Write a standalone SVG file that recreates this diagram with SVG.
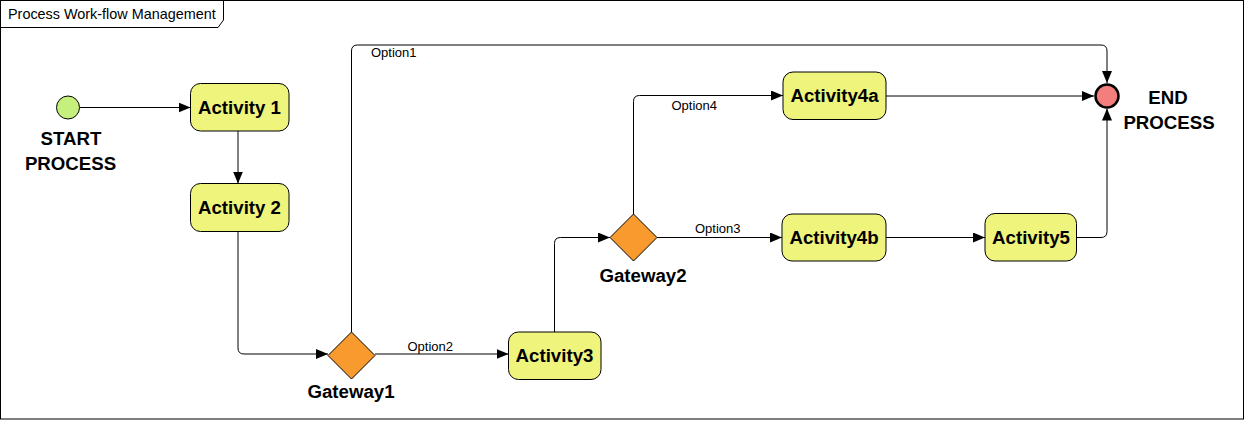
<svg xmlns="http://www.w3.org/2000/svg" width="1246" height="421" viewBox="0 0 1246 421">
<defs>
<marker id="arr" markerUnits="userSpaceOnUse" markerWidth="12" markerHeight="10" refX="12" refY="5" orient="auto">
<path d="M0,0 L12,5 L0,10 Z" fill="#000"/>
</marker>
<style>
.frame{fill:#fff;stroke:#000;stroke-width:1}
.act{fill:#EEF47C;stroke:#000;stroke-width:1}
.gw{fill:#F99A2E;stroke:#000;stroke-width:1}
.conn{fill:none;stroke:#000;stroke-width:1;marker-end:url(#arr)}
.lbl{font-family:"Liberation Sans",Arial,sans-serif;font-weight:bold;font-size:18.67px;fill:#000;text-anchor:middle}
.opt{font-family:"Liberation Sans",Arial,sans-serif;font-size:13px;fill:#000}
.title{font-family:"Liberation Sans",Arial,sans-serif;font-size:14.4px;fill:#000}
</style>
</defs>
<rect class="frame" x="0.5" y="0.5" width="1243" height="418.5"/>
<polygon class="frame" points="0.5,27.5 218,27.5 223.5,20 223.5,0.5 0.5,0.5"/>
<text class="title" x="8" y="19">Process Work-flow Management</text>

<g id="connectors">
<path class="conn" d="M80,107.5 H190.5"/>
<path class="conn" d="M238,131 V183.5"/>
<path class="conn" d="M238,231.5 V348 Q238,354 244,354 H328"/>
<path class="conn" d="M375,354 H508.5"/>
<path class="conn" d="M554.5,332 V243.5 Q554.5,237.5 560.5,237.5 H610"/>
<path class="conn" d="M633.5,214 V101.5 Q633.5,95.5 639.5,95.5 H783"/>
<path class="conn" d="M657,237.5 H782"/>
<path class="conn" d="M886,96 H1094"/>
<path class="conn" d="M886,237.5 H985"/>
<path class="conn" d="M1076,237.5 H1101 Q1107,237.5 1107,231.5 V108.5"/>
<path class="conn" d="M351.5,332 V51 Q351.5,45 357.5,45 H1101 Q1107,45 1107,51 V83"/>
<text class="opt" x="371" y="57">Option1</text>
<text class="opt" x="407.5" y="351">Option2</text>
<text class="opt" x="695" y="233">Option3</text>
<text class="opt" x="671.5" y="110">Option4</text>
</g>

<g id="start">
<circle cx="68" cy="107.5" r="11.5" fill="#C6F07E" stroke="#000" stroke-width="1"/>
<text class="lbl" x="71" y="145">START</text>
<text class="lbl" x="70.5" y="170">PROCESS</text>
</g>

<g id="activity1">
<rect class="act" x="190.5" y="83.5" width="98.5" height="47.5" rx="10"/>
<text class="lbl" x="239.5" y="114">Activity 1</text>
</g>

<g id="activity2">
<rect class="act" x="190.5" y="183.5" width="98.5" height="48" rx="10"/>
<text class="lbl" x="239.5" y="214">Activity 2</text>
</g>

<g id="gateway1">
<polygon class="gw" points="351.5,332 375,355.5 351.5,379 328,355.5"/>
<text class="lbl" x="351" y="398">Gateway1</text>
</g>

<g id="activity3">
<rect class="act" x="508.5" y="332" width="92.5" height="47.5" rx="10"/>
<text class="lbl" x="554.5" y="362">Activity3</text>
</g>

<g id="gateway2">
<polygon class="gw" points="633.5,214 657,237.5 633.5,261 610,237.5"/>
<text class="lbl" x="643" y="282">Gateway2</text>
</g>

<g id="activity4a">
<rect class="act" x="783" y="72" width="103" height="47.5" rx="10"/>
<text class="lbl" x="834.5" y="102">Activity4a</text>
</g>

<g id="activity4b">
<rect class="act" x="782" y="214" width="104" height="47" rx="10"/>
<text class="lbl" x="834" y="244">Activity4b</text>
</g>

<g id="activity5">
<rect class="act" x="985" y="213.5" width="91.5" height="47.5" rx="10"/>
<text class="lbl" x="1031" y="244">Activity5</text>
</g>

<g id="end">
<circle cx="1107" cy="96" r="11.5" fill="#F27E7E" stroke="#000" stroke-width="2.5"/>
<text class="lbl" x="1168" y="104">END</text>
<text class="lbl" x="1169" y="129">PROCESS</text>
</g>
</svg>
